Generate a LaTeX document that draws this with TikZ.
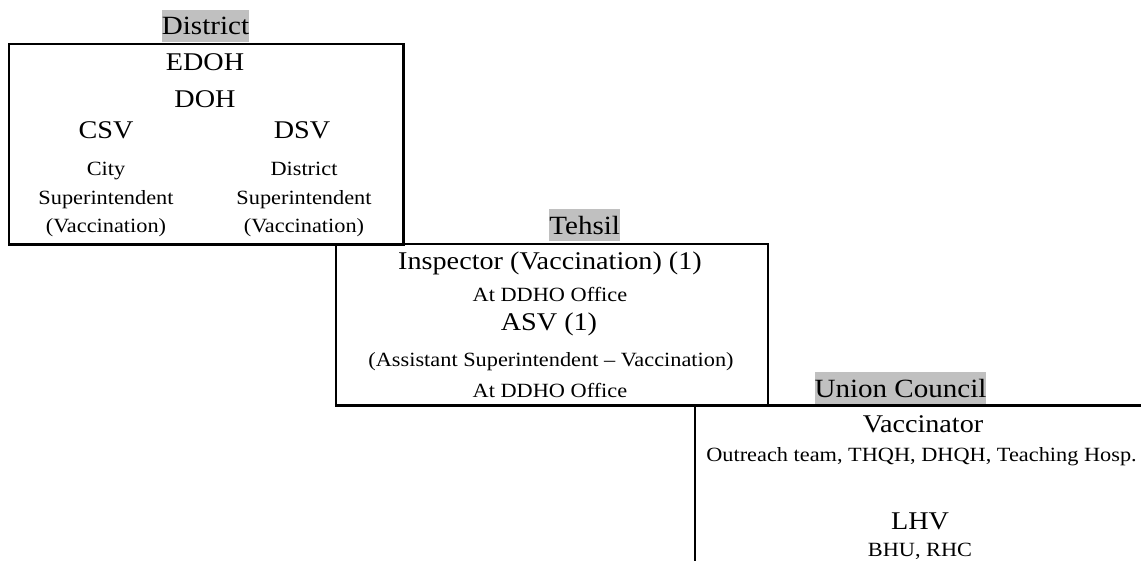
\documentclass[tikz,border=0pt]{standalone}
\usepackage{fontspec}
\setmainfont{Liberation Serif}[FakeStretch=1.105]
\newcommand\lgfont{\fontsize{25.5}{30}\selectfont}
\newcommand\smfont{\fontsize{20.2}{24}\selectfont}
\newcommand\lblfont{\fontsize{26.3}{31}\selectfont}
\definecolor{hlgray}{RGB}{192,192,192}
\tikzset{
  frame/.style={draw=black, line width=2.2pt, line cap=butt},
  big/.style={anchor=base, inner sep=0pt, font=\lgfont},
  small/.style={anchor=base, inner sep=0pt, font=\smfont},
  level/.style={anchor=base, inner sep=0pt, fill=hlgray, font=\lblfont,
    text height=25pt, text depth=6.7pt},
}
\begin{document}
\begin{tikzpicture}[x=1pt, y=-1pt]
  \clip (0,0) rectangle (1141,561);
  \fill[white] (0,0) rectangle (1141,561);

  % level frames
  \draw[frame] (8.7,43.7) rectangle (403.5,244.5);
  \draw[frame] (336,244.2) rectangle (768,405.5);
  \draw[frame] (695,565) -- (695,405.5) -- (1145,405.5);

  % level headings
  \node[level] (lvdistrict) at (205.5,35) {District};
  \node[level] (lvtehsil) at (584.7,234.3) {Tehsil};
  \node[level] (lvunion) at (900.5,397.3) {Union Council};

  % district staff
  \node[big] (edoh) at (205,70.7) {EDOH};
  \node[big] (doh) at (205,107.3) {DOH};
  \node[big] (csv) at (106,139) {CSV};
  \node[big] (dsv) at (302,139) {DSV};
  \node[small] (csva) at (106,176) {City};
  \node[small] (csvb) at (106,205) {Superintendent};
  \node[small] (csvc) at (106,232.7) {(Vaccination)};
  \node[small] (dsva) at (304,176) {District};
  \node[small] (dsvb) at (304,205) {Superintendent};
  \node[small] (dsvc) at (304,232.7) {(Vaccination)};

  % tehsil staff
  \node[big] (insp) at (550,270) {Inspector (Vaccination) (1)};
  \node[small] (inspat) at (550,302) {At DDHO Office};
  \node[big] (asv) at (549,331) {ASV (1)};
  \node[small] (asvfull) at (551,366.5) {(Assistant Superintendent -- Vaccination)};
  \node[small] (asvat) at (550,398) {At DDHO Office};

  % union council staff
  \node[big] (vacc) at (923,432.7) {Vaccinator};
  \node[small] (vaccat) at (921.5,461.7) {Outreach team, THQH, DHQH, Teaching Hosp.};
  \node[big] (lhv) at (920,529) {LHV};
  \node[small] (lhvat) at (920,556) {BHU, RHC};
\end{tikzpicture}
\end{document}
